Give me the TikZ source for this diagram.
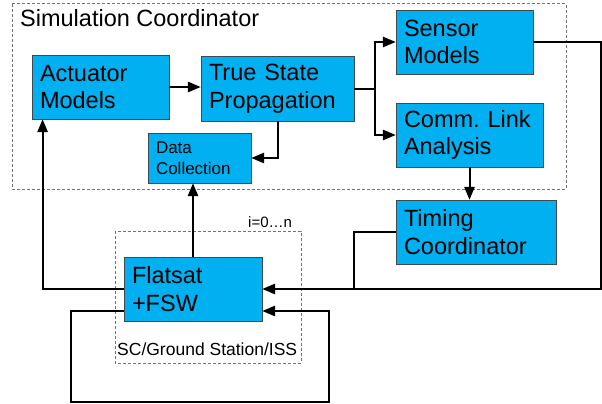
\documentclass[tikz,border=0pt]{standalone}
\usepackage{fontspec}
\setmainfont{Liberation Sans}
\usetikzlibrary{arrows}
\definecolor{simblue}{HTML}{00B0F0}
\definecolor{frame}{HTML}{404850}
\frenchspacing

\tikzset{
  block/.style={draw=frame,line width=0.8pt,fill=simblue,align=left,
    inner xsep=8pt,inner ysep=0pt,font=\fontsize{23.5}{27.5}\selectfont},
  group/.style={draw=black!55,line width=1pt,dash pattern=on 3pt off 2pt},
  link/.style={line width=2pt}
}

\begin{document}
\begin{tikzpicture}[line cap=butt,line join=miter,>=triangle 45,x=1pt,y=-1pt]
		\useasboundingbox (0,0) rectangle (602,404);
		% groupings
		\draw [group] (12,4) rectangle (566,189);
		\draw [group] (115,231) rectangle (301,363);
		\node[anchor=base west,inner sep=0pt,font=\fontsize{23.5}{27}\selectfont] (simtitle) at (20,27) {Simulation Coordinator};
		\node[anchor=base west,inner sep=0pt,font=\fontsize{15}{18}\selectfont] (loopidx) at (248,227) {i=0\dots n};
		\node[anchor=base west,inner sep=0pt,font=\fontsize{17.5}{21}\selectfont] (sitelbl) at (117,355) {SC/Ground Station/ISS};
		% blocks
		\node[block,text width=121pt,minimum height=64pt] (actuator) at (100.5,87) {Actuator\\Models};
		\node[block,text width=137pt,minimum height=65pt] (truestate) at (277.5,88.5) {True State\\Propagation};
		\node[block,text width=87pt,minimum height=50pt,font=\fontsize{17}{21.5}\selectfont] (datacol) at (199.5,158) {Data\\Collection};
		\node[block,text width=121pt,minimum height=64pt] (sensor) at (464.5,42) {Sensor\\Models};
		\node[block,text width=131pt,minimum height=64pt] (commlink) at (469.5,135) {Comm. Link\\Analysis};
		\node[block,text width=144pt,minimum height=64pt] (timing) at (476,232) {Timing\\Coordinator};
		\node[block,text width=122pt,minimum height=64pt] (flatsat) at (193,289) {Flatsat\\+FSW};
		% corner points
		\coordinate (split) at (375,89);
		\coordinate (rtop) at (600.5,42);
		\coordinate (rbot) at (600.5,289);
		\coordinate (tjoin) at (354,289);
		\coordinate (loopa) at (71,402);
		\coordinate (loopb) at (329,402);
		% connectors
		\draw [link,->] (actuator.east) -- (actuator.east -| truestate.west);
		\draw [link,->] (truestate.south) |- (datacol.east);
		\draw [link] (truestate.east |- split) -- (split);
		\draw [link,->] (split) |- (sensor.west);
		\draw [link,->] (split) |- (commlink.west);
		\draw [link,->] (sensor.east) -- (rtop) -- (rbot) -- (flatsat.east);
		\draw [link,->] (commlink.south) -- (commlink.south |- timing.north);
		\draw [link] (timing.west) -| (tjoin);
		\draw [link,->] (flatsat.west) -| ([xshift=11pt]actuator.south west);
		\draw [link,->] (flatsat.north) -- (flatsat.north |- datacol.south);
		\draw [link,->] ([yshift=-22pt]flatsat.west) -| (loopa) -- (loopb) |- ([yshift=-22pt]flatsat.east);
	\end{tikzpicture}
\end{document}
